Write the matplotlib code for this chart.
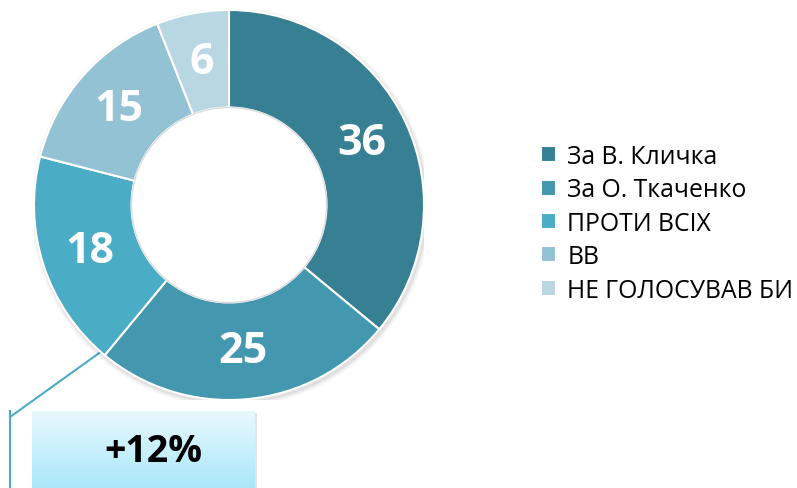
import numpy as np
import matplotlib
matplotlib.use("Agg")
import matplotlib.pyplot as plt
from matplotlib.patches import Rectangle, Circle

plt.rcParams['font.family'] = ['Open Sans', 'DejaVu Sans']

labels = ['За В. Кличка', 'За О. Ткаченко', 'ПРОТИ ВСІХ', 'ВВ', 'НЕ ГОЛОСУВАВ БИ']
values = [36, 25, 18, 15, 6]
colors = ['#377F93', '#4397AE', '#4AACC5', '#92C2D4', '#B9D7E3']
callout = '+12%'

W, H = 797, 489
fig = plt.figure(figsize=(W / 100, H / 100), dpi=100)

# overlay in pixel coords for callout box + leader line
over = fig.add_axes([0, 0, 1, 1])
over.axis('off')

# donut
cx, cy, R = 229, 206, 195
ax = fig.add_axes([(cx - R) / W, (H - cy - R) / H, 2 * R / W, 2 * R / H])
ax.axis('off')

# soft shadow
for i, a in enumerate([0.05, 0.04, 0.03]):
    ax.add_patch(Circle((0.008, -0.012), 1.0 + 0.008 * (i + 1), color='black', alpha=a, lw=0, zorder=0))

wedges, texts = ax.pie(values, colors=colors, startangle=90, counterclock=False,
                       radius=1.0, wedgeprops=dict(width=0.5, edgecolor='white', linewidth=1.5))
ax.add_patch(Circle((0, 0), 0.5, facecolor='white', edgecolor='#dddddd', lw=1.0, zorder=3))
ax.set_xlim(-1.0, 1.0)
ax.set_ylim(-1.0, 1.0)
ax.set_aspect('equal')

total = sum(values)
ang = 90.0
for v in values:
    mid = np.deg2rad(ang - v / total * 360 / 2)
    ang -= v / total * 360
    ax.text(0.75 * np.cos(mid), 0.75 * np.sin(mid), str(v), color='white',
            fontsize=31, fontweight='bold', ha='center', va='center', zorder=4)

# legend
leg = fig.legend(wedges, labels, loc='upper left', bbox_to_anchor=(531 / W, 1 - 135 / H),
                 frameon=False, fontsize=17.8, handlelength=0.62, handleheight=0.62,
                 handletextpad=0.45, labelspacing=0.34, borderaxespad=0)

# leader line
over.plot([102, 10], [352, 418], color='#4AACC5', lw=1.5, zorder=2)
over.plot([10, 10], [412, 489], color='#4AACC5', lw=1.5, zorder=2)

# gradient callout box
grad = np.linspace(0, 1, 100).reshape(-1, 1)
cmap = matplotlib.colors.LinearSegmentedColormap.from_list('g', ['#E9F9FE', '#A9E7F9'])
over.add_patch(Rectangle((34, 414), 223, 80, facecolor='#cccccc', alpha=0.5, lw=0, zorder=1))
over.imshow(grad, cmap=cmap, extent=(32, 255, 489, 412), aspect='auto', zorder=2)
over.set_xlim(0, W)
over.set_ylim(H, 0)
over.text(153, 452, callout, fontsize=27, fontweight='bold', color='black',
          ha='center', va='center', zorder=3)

fig.savefig('out.png', dpi=100)
